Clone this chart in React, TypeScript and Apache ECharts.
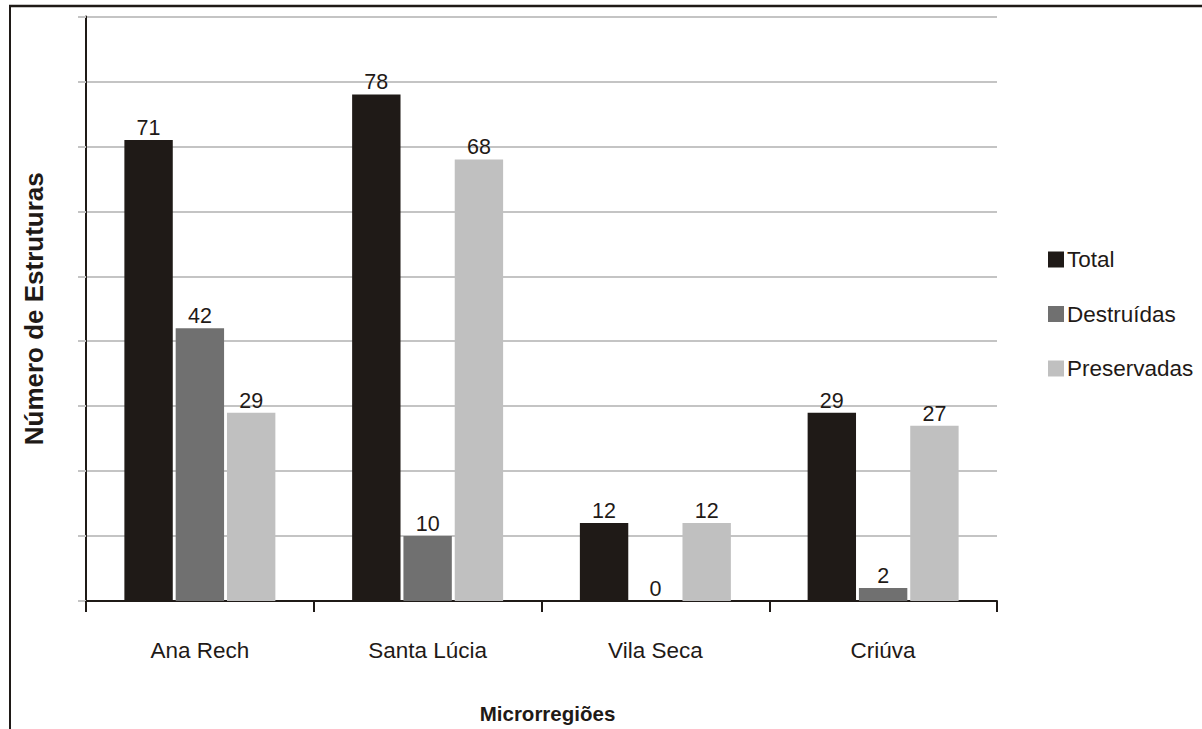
import React, { useEffect, useRef } from "react";
import * as echarts from "echarts";

const categories = ["Ana Rech", "Santa Lúcia", "Vila Seca", "Criúva"];
const seriesNames = ["Total", "Destruídas", "Preservadas"];
const totalValues = [71, 78, 12, 29];
const destruidasValues = [42, 10, 0, 2];
const preservadasValues = [29, 68, 12, 27];
const seriesColors = ["#1f1a17", "#707070", "#c0c0c0"];

const FONT = "Liberation Sans, Arial, sans-serif";

export default function App() {
  const ref = useRef<HTMLDivElement>(null);
  useEffect(() => {
    if (!ref.current) return;
    const chart = echarts.init(ref.current, undefined, { renderer: "svg" });
    const dataSets = [totalValues, destruidasValues, preservadasValues];
    chart.setOption({
      animation: false,
      backgroundColor: "#ffffff",
      textStyle: { fontFamily: FONT },
      grid: { left: 86, right: 205, top: 16.5, bottom: 122, containLabel: false },
      legend: {
        orient: "vertical",
        left: 1043,
        top: 243,
        itemWidth: 16,
        itemHeight: 16,
        itemGap: 31.5,
        icon: "rect",
        textStyle: { fontFamily: FONT, fontSize: 22.5, color: "#1f1a17", padding: [0, 0, 0, -2] },
        data: seriesNames,
      },
      xAxis: {
        type: "category",
        data: categories,
        name: "Microrregiões",
        nameLocation: "middle",
        nameGap: 102,
        nameTextStyle: {
          fontFamily: FONT,
          fontSize: 20.5,
          fontWeight: "bold",
          color: "#1f1a17",
          padding: [0, 0, 0, 12],
        },
        axisLine: { show: true, lineStyle: { color: "#1f1a17", width: 2 } },
        axisTick: { show: true, length: 11, lineStyle: { color: "#1f1a17", width: 2 } },
        axisLabel: { margin: 37.5, fontFamily: FONT, fontSize: 22.5, color: "#1f1a17" },
        splitLine: { show: false },
      },
      yAxis: {
        type: "value",
        min: 0,
        max: 90,
        interval: 10,
        name: "Número de Estruturas",
        nameLocation: "middle",
        nameGap: 39,
        nameTextStyle: { fontFamily: FONT, fontSize: 26, fontWeight: "bold", color: "#1f1a17" },
        axisLine: { show: true, lineStyle: { color: "#1f1a17", width: 2 } },
        axisTick: { show: true, length: 8, lineStyle: { color: "#c4c4c4", width: 2 } },
        axisLabel: { show: false },
        splitLine: { show: true, lineStyle: { color: "#c4c4c4", width: 2 } },
      },
      series: seriesNames.map((name, i) => ({
        name,
        type: "bar",
        data: dataSets[i],
        barGap: "6%",
        barCategoryGap: "33.7%",
        itemStyle: { color: seriesColors[i] },
        label: {
          show: true,
          position: "top",
          distance: 1,
          fontFamily: FONT,
          fontSize: 21.5,
          color: "#1f1a17",
        },
      })),
      graphic: [
        {
          type: "line",
          shape: { x1: 9, y1: 6, x2: 1202, y2: 6 },
          style: { stroke: "#1f1a17", lineWidth: 2.5 },
        },
        {
          type: "line",
          shape: { x1: 10, y1: 6, x2: 10, y2: 729 },
          style: { stroke: "#1f1a17", lineWidth: 2 },
        },
      ],
    });
    return () => chart.dispose();
  }, []);
  return (
    <div
      ref={ref}
      style={{ position: "fixed", left: 0, top: 0, width: 1202, height: 729 }}
    />
  );
}
